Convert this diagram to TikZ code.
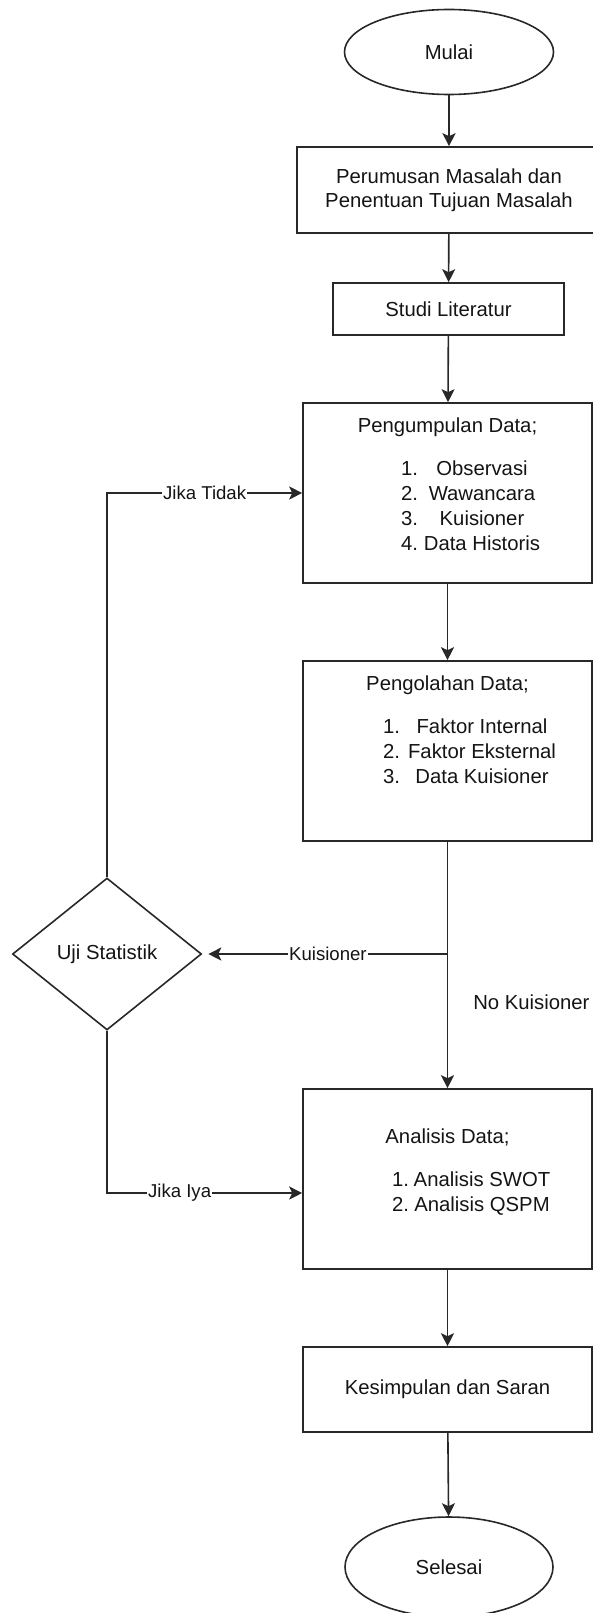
\documentclass[tikz,border=0pt]{standalone}
\usepackage{fontspec}
\setmainfont{Liberation Sans}
\usepackage{tikz}
\usetikzlibrary{positioning, arrows.meta, shapes.geometric, calc}
\definecolor{garis}{RGB}{40,40,40}
\definecolor{tinta}{RGB}{20,20,20}

\newcommand{\teksbox}{\fontsize{20.3}{25}\selectfont}
\newcommand{\tekslabel}{\fontsize{18.6}{22}\selectfont}
% satu baris daftar: #1 posisi nomor dari kiri kotak, #2 nomor, #3 isi
\newcommand{\butir}[3]{\noindent\makebox[289pt][l]{\hspace*{#1}\rlap{#2}\hspace*{\dimexpr179pt-#1\relax}\makebox[0pt]{#3}}\par}
% isi kotak besar: #1 jarak garis dasar judul, #2 judul, #3 daftar
\newcommand{\isikotak}[3]{\parbox[c][180pt][t]{289pt}{\teksbox\baselineskip=25pt\parskip=0pt
  \noindent\makebox[289pt]{\rule{0pt}{#1}#2}\par\vspace{18pt}#3}}

\tikzset{
  kotak/.style={draw=garis, line width=1.6pt, rectangle, align=center, font=\teksbox, text=tinta},
  lonjong/.style={draw=garis, line width=1.6pt, ellipse, inner sep=0pt, font=\teksbox, text=tinta},
  belah/.style={draw=garis, line width=1.6pt, diamond, aspect=1.24, inner sep=0pt, font=\teksbox, text=tinta},
  panah/.style={draw=garis, line width=1.6pt, ->},
  ket/.style={fill=white, inner sep=1pt, font=\tekslabel, text=tinta}
}

\begin{document}
\begin{tikzpicture}[x=1pt, y=1pt, >={Stealth[length=13pt, width=13pt, inset=3pt]}]
\useasboundingbox (0,0) rectangle (593,-1613);
\clip (0,0) rectangle (593,-1613);

% alur utama
\node[lonjong, minimum width=209pt, minimum height=85pt] (mulai) at (449,-52) {Mulai};
\node[kotak, minimum width=304pt, minimum height=86pt] (rumus) at (449,-190) {Perumusan Masalah dan\\[-1pt]Penentuan Tujuan Masalah};
\node[kotak, minimum width=231pt, minimum height=52pt] (studi) at (448.5,-309) {Studi Literatur};
\node[kotak, inner sep=0pt] (kumpul) at (447.5,-493) {\isikotak{29pt}{Pengumpulan Data;}{%
  \butir{98pt}{1.}{Observasi}
  \butir{98pt}{2.}{Wawancara}
  \butir{98pt}{3.}{Kuisioner}
  \butir{98pt}{4.}{Data Historis}}};
\node[kotak, inner sep=0pt] (olah) at (447.5,-751) {\isikotak{29pt}{Pengolahan Data;}{%
  \butir{80pt}{1.}{Faktor Internal}
  \butir{80pt}{2.}{Faktor Eksternal}
  \butir{80pt}{3.}{Data Kuisioner}}};
\node[kotak, inner sep=0pt] (analisis) at (447.5,-1179) {\isikotak{54pt}{Analisis Data;}{%
  \butir{89pt}{1.}{Analisis SWOT}
  \butir{89pt}{2.}{Analisis QSPM}}};
\node[kotak, minimum width=289pt, minimum height=85pt] (simpul) at (447.5,-1389.5) {Kesimpulan dan Saran};
\node[lonjong, minimum width=208pt, minimum height=100pt] (selesai) at (449,-1567) {Selesai};

% keputusan
\node[belah, minimum width=189pt, minimum height=152pt] (uji) at (107,-954) {Uji Statistik};

% penghubung
\draw[panah] (mulai) -- (rumus);
\draw[panah] (rumus) -- (studi);
\draw[panah] (studi) -- (kumpul);
\draw[panah] (kumpul) -- (olah);
\draw[panah] (olah) -- node[pos=0.653, anchor=west, xshift=25pt, inner sep=0pt, font=\teksbox, text=tinta] {No Kuisioner} (analisis);
\draw[panah] (analisis) -- (simpul);
\draw[panah] (simpul) -- (selesai);

\coordinate (cabang) at (olah.south |- uji.east);
\draw[panah] (cabang) -- node[ket] {Kuisioner} ([xshift=6pt]uji.east);
\draw[panah] (uji.north) |- node[ket, pos=0.75] {Jika Tidak} (kumpul.west);
\draw[panah] (uji.south) |- node[ket, pos=0.686] {Jika Iya} ([yshift=-14pt]analisis.west);
\end{tikzpicture}
\end{document}
